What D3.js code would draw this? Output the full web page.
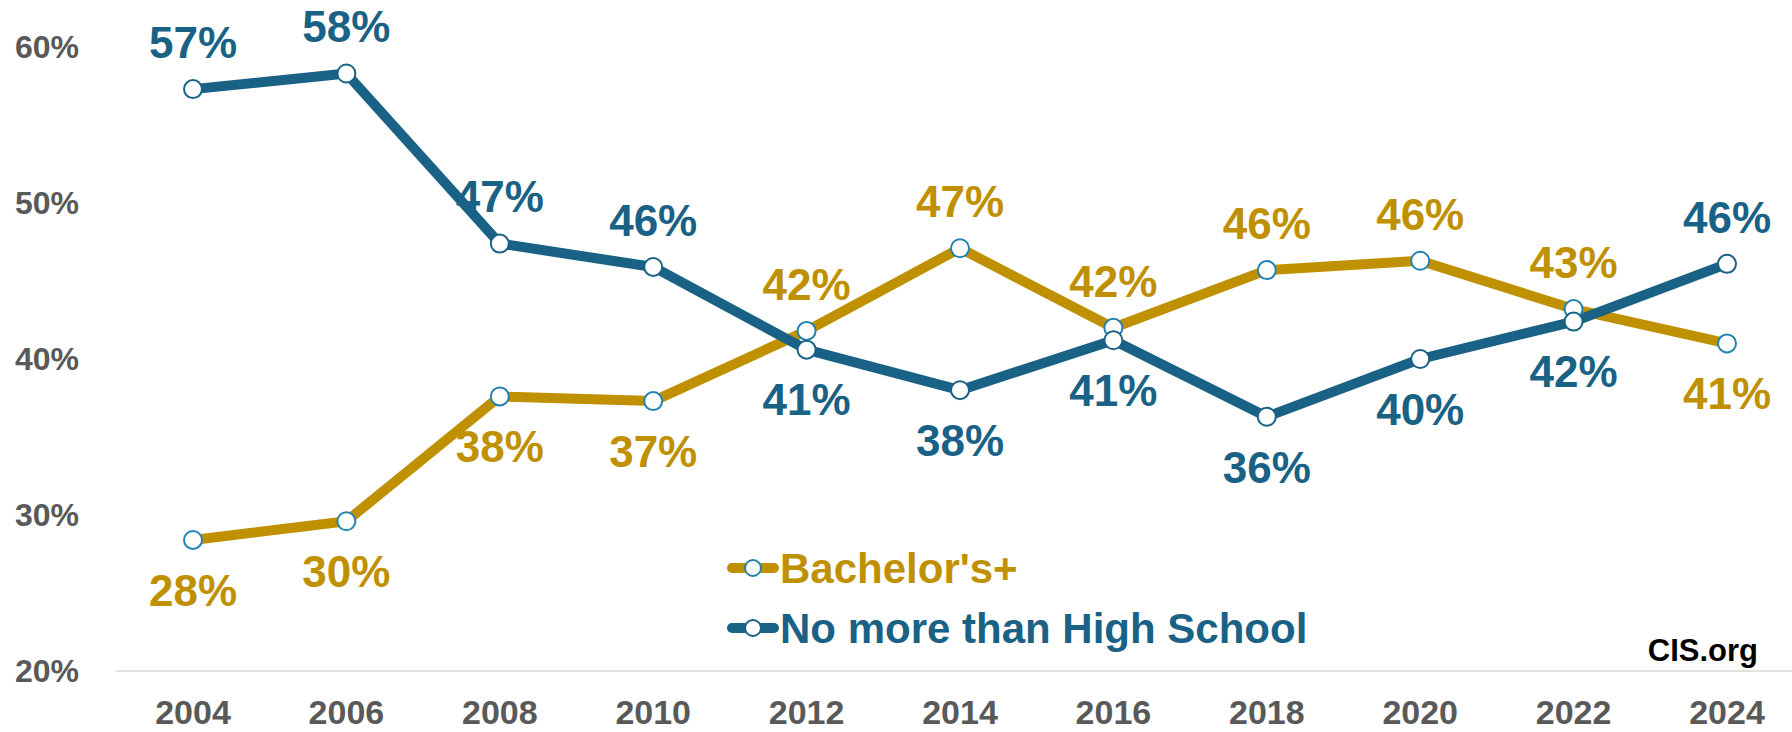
<!DOCTYPE html>
<html>
<head>
<meta charset="utf-8">
<script src="https://cdn.jsdelivr.net/npm/d3@7"></script>
<style>
  html, body { margin: 0; padding: 0; background: #fff; }
  svg { display: block; font-family: "Liberation Sans", Arial, sans-serif; }
</style>
</head>
<body>
<svg id="chart" width="1792" height="732"></svg>
<script>
// ---- data ----
const years = ["2004","2006","2008","2010","2012","2014","2016","2018","2020","2022","2024"];
const bachelorsValues = [28.4, 29.6, 37.6, 37.3, 41.8, 47.1, 42.0, 45.7, 46.3, 43.2, 41.0];
const highSchoolValues = [57.3, 58.3, 47.4, 45.9, 40.6, 38.0, 41.2, 36.3, 40.0, 42.4, 46.1];
const bachelorsLabelSide = ["below","below","below","below","above","above","above","above","above","above","below"];
const highSchoolLabelSide = ["above","above","above","above","below","below","below","below","below","below","above"];
const yTickValues = [20, 30, 40, 50, 60];
const seriesNames = ["Bachelor's+", "No more than High School"];
const sourceText = "CIS.org";

// ---- styles ----
const goldColor = "#BF9000";
const blueColor = "#1A6285";
const goldMarkerStroke = "#2383B0";
const axisTextColor = "#595959";

const svg = d3.select("#chart");
const width = 1792, height = 732;

const x = d3.scaleBand().domain(years).range([116.3, 1803.7]);
const xc = d => x(d) + x.bandwidth() / 2;
const y = d3.scaleLinear().domain([20, 60]).range([671, 47]);

// baseline gridline
svg.append("line")
  .attr("x1", 116).attr("x2", width)
  .attr("y1", y(20)).attr("y2", y(20))
  .attr("stroke", "#d9d9d9").attr("stroke-width", 1.5);

// y axis
const yAxis = d3.axisLeft(y).tickValues(yTickValues).tickFormat(d => d + "%").tickSize(0).tickPadding(0);
const yg = svg.append("g").attr("transform", "translate(79,0)").call(yAxis);
yg.select(".domain").remove();
yg.selectAll("text")
  .attr("fill", axisTextColor)
  .attr("font-size", 32)
  .attr("font-weight", "bold")
  .attr("font-family", "'Liberation Sans', Arial, sans-serif");

// x axis
const xAxis = d3.axisBottom(x).tickSize(0).tickPadding(0);
const xg = svg.append("g").attr("transform", "translate(0,700)").call(xAxis);
xg.select(".domain").remove();
xg.selectAll("text")
  .attr("fill", axisTextColor)
  .attr("font-size", 34)
  .attr("font-weight", "bold")
  .attr("font-family", "'Liberation Sans', Arial, sans-serif");

const series = [
  { name: seriesNames[0], values: bachelorsValues, sides: bachelorsLabelSide, color: goldColor, markerStroke: goldMarkerStroke },
  { name: seriesNames[1], values: highSchoolValues, sides: highSchoolLabelSide, color: blueColor, markerStroke: blueColor }
];

const line = d3.line().x((d, i) => xc(years[i])).y(d => y(d));

series.forEach(s => {
  svg.append("path")
    .datum(s.values)
    .attr("d", line)
    .attr("fill", "none")
    .attr("stroke", s.color)
    .attr("stroke-width", 10)
    .attr("stroke-linejoin", "round");
});

series.forEach(s => {
  svg.append("g").selectAll("circle")
    .data(s.values)
    .join("circle")
    .attr("cx", (d, i) => xc(years[i]))
    .attr("cy", d => y(d))
    .attr("r", 9)
    .attr("fill", "#fff")
    .attr("stroke", s.markerStroke)
    .attr("stroke-width", 2);
});

series.forEach(s => {
  svg.append("g").selectAll("text")
    .data(s.values)
    .join("text")
    .attr("x", (d, i) => xc(years[i]))
    .attr("y", (d, i) => y(d) + (s.sides[i] === "above" ? -47 : 50))
    .attr("dy", "0.36em")
    .attr("text-anchor", "middle")
    .attr("fill", s.color)
    .attr("font-size", 44)
    .attr("font-weight", "bold")
    .text(d => Math.round(d) + "%");
});

// legend
const legend = svg.append("g");
series.forEach((s, i) => {
  const ly = 568 + i * 60;
  legend.append("line")
    .attr("x1", 732).attr("x2", 774).attr("y1", ly).attr("y2", ly)
    .attr("stroke", s.color).attr("stroke-width", 10).attr("stroke-linecap", "round");
  legend.append("circle")
    .attr("cx", 753).attr("cy", ly).attr("r", 8)
    .attr("fill", "#fff").attr("stroke", s.markerStroke).attr("stroke-width", 2);
  legend.append("text")
    .attr("x", 780).attr("y", ly).attr("dy", "0.36em")
    .attr("fill", s.color)
    .attr("font-size", 42)
    .attr("font-weight", "bold")
    .text(s.name);
});

// source
svg.append("text")
  .attr("x", 1758).attr("y", 650).attr("dy", "0.36em")
  .attr("text-anchor", "end")
  .attr("font-size", 31)
  .attr("font-weight", "bold")
  .attr("fill", "#000")
  .text(sourceText);
</script>
</body>
</html>
